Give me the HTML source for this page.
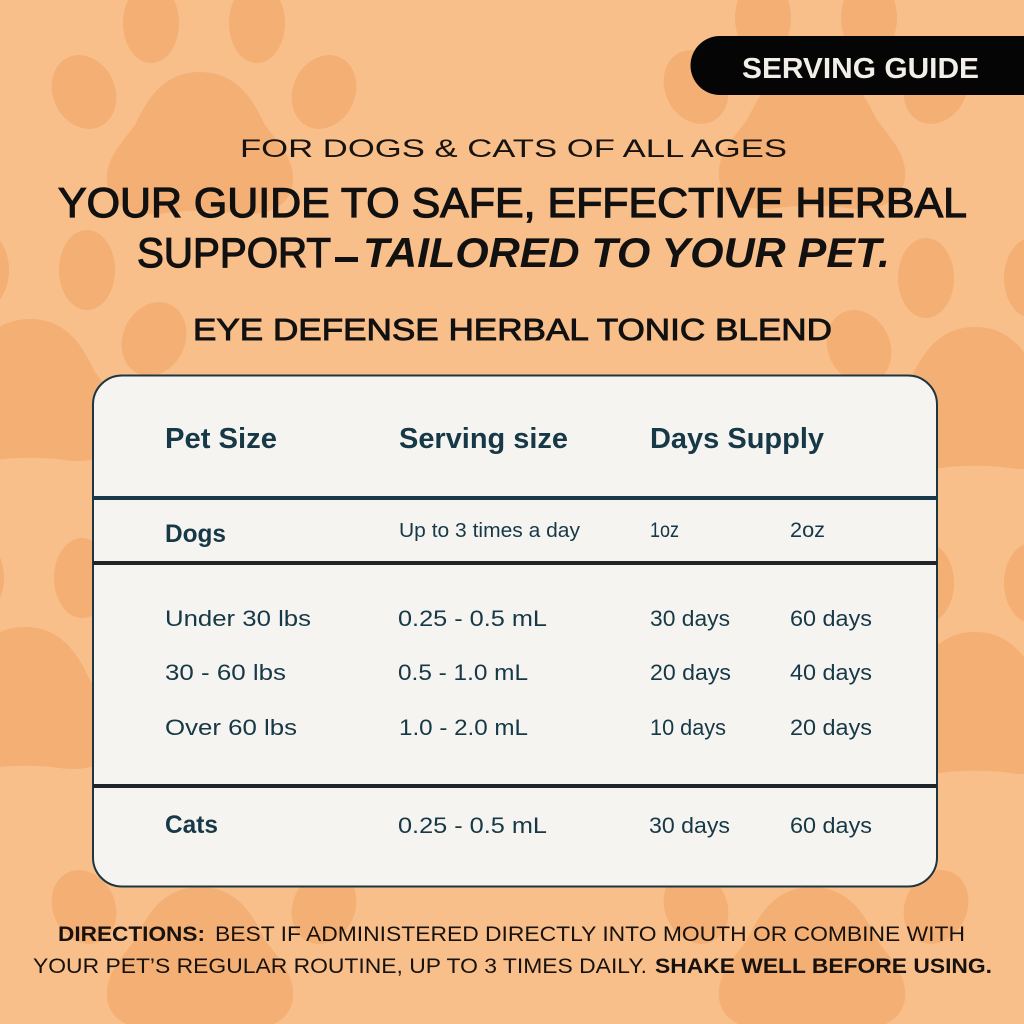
<!DOCTYPE html>
<html>
<head>
<meta charset="utf-8">
<style>
  html, body { margin: 0; padding: 0; width: 1024px; height: 1024px; overflow: hidden; background: #F8BF8B; }
  svg { display: block; }
  .t { font-family: "Liberation Sans", "DejaVu Sans", sans-serif; }
</style>
</head>
<body>
<svg width="1024" height="1024" viewBox="0 0 1024 1024" xmlns="http://www.w3.org/2000/svg">
  <defs>
    <g id="paw" fill="#F3AF74">
      <path d="M 0,-73 C 40,-73 55,-40 65,-20 C 80,0 95,15 93,38 C 90,65 60,72 35,68 C 15,65 -15,65 -35,68 C -60,72 -90,65 -93,38 C -95,15 -80,0 -65,-20 C -55,-40 -40,-73 0,-73 Z"/>
      <ellipse cx="-49" cy="-122" rx="28" ry="40"/>
      <ellipse cx="57" cy="-122" rx="28" ry="40"/>
      <ellipse cx="-116" cy="-53" rx="31" ry="38" transform="rotate(-25 -116 -53)"/>
      <ellipse cx="124" cy="-53" rx="31" ry="38" transform="rotate(25 124 -53)"/>
    </g>
  </defs>

  <rect x="0" y="0" width="1024" height="1024" fill="#F8BF8B"/>

  <!-- paw prints -->
  <use href="#paw" transform="translate(200,145)"/>
  <use href="#paw" transform="translate(812,140)"/>
  <use href="#paw" transform="translate(30,392)"/>
  <use href="#paw" transform="translate(975,400)"/>
  <use href="#paw" transform="translate(25,700)"/>
  <use href="#paw" transform="translate(975,705)"/>
  <use href="#paw" transform="translate(200,960)"/>
  <use href="#paw" transform="translate(812,960)"/>

  <!-- badge -->
  <path d="M 720,36 L 1024,36 L 1024,95 L 720,95 A 29.5,29.5 0 0 1 720,36 Z" fill="#050505"/>
  <text class="t" x="742" y="78" font-size="29" font-weight="700" fill="#F2EFE9" textLength="237" lengthAdjust="spacingAndGlyphs">SERVING GUIDE</text>

  <!-- titles -->
  <text class="t" x="240" y="157" font-size="25" fill="#161310" textLength="547" lengthAdjust="spacingAndGlyphs">FOR DOGS &amp; CATS OF ALL AGES</text>
  <text class="t" x="58" y="217" font-size="42" fill="#111" stroke="#111" stroke-width="1.2" textLength="909" lengthAdjust="spacingAndGlyphs">YOUR GUIDE TO SAFE, EFFECTIVE HERBAL</text>
  <text class="t" x="137" y="267" font-size="42" fill="#111" stroke="#111" stroke-width="1.2" textLength="194" lengthAdjust="spacingAndGlyphs">SUPPORT</text>
  <rect x="335" y="257" width="23" height="5" fill="#111"/>
  <text class="t" x="363" y="267" font-size="42" font-weight="700" font-style="italic" fill="#111" textLength="527" lengthAdjust="spacingAndGlyphs">TAILORED TO YOUR PET.</text>
  <text class="t" x="193" y="340" font-size="31" fill="#111" stroke="#111" stroke-width="0.9" textLength="639" lengthAdjust="spacingAndGlyphs">EYE DEFENSE HERBAL TONIC BLEND</text>

  <!-- table -->
  <rect x="93" y="375.5" width="844" height="511" rx="29" ry="29" fill="#F5F4F0" stroke="#1E3640" stroke-width="2"/>
  <rect x="93" y="496" width="844" height="4" fill="#17394A"/>
  <rect x="93" y="561" width="844" height="4" fill="#1E2428"/>
  <rect x="93" y="784" width="844" height="4" fill="#1E2428"/>

  <g class="t" fill="#163847">
    <text x="165" y="448" font-size="29" font-weight="700" textLength="112" lengthAdjust="spacingAndGlyphs">Pet Size</text>
    <text x="399" y="448" font-size="29" font-weight="700" textLength="169" lengthAdjust="spacingAndGlyphs">Serving size</text>
    <text x="650" y="448" font-size="29" font-weight="700" textLength="174" lengthAdjust="spacingAndGlyphs">Days Supply</text>

    <text x="165" y="542" font-size="25" font-weight="700" textLength="61" lengthAdjust="spacingAndGlyphs">Dogs</text>
    <text x="399" y="537" font-size="20" textLength="181" lengthAdjust="spacingAndGlyphs">Up to 3 times a day</text>
    <text x="650" y="537" font-size="21" textLength="29" lengthAdjust="spacingAndGlyphs">1oz</text>
    <text x="790" y="537" font-size="21" textLength="35" lengthAdjust="spacingAndGlyphs">2oz</text>

    <text x="165" y="626" font-size="22" textLength="146" lengthAdjust="spacingAndGlyphs">Under 30 lbs</text>
    <text x="398" y="626" font-size="22" textLength="149" lengthAdjust="spacingAndGlyphs">0.25 - 0.5 mL</text>
    <text x="650" y="626" font-size="22" textLength="80" lengthAdjust="spacingAndGlyphs">30 days</text>
    <text x="790" y="626" font-size="22" textLength="82" lengthAdjust="spacingAndGlyphs">60 days</text>

    <text x="165" y="680" font-size="22" textLength="121" lengthAdjust="spacingAndGlyphs">30 - 60 lbs</text>
    <text x="398" y="680" font-size="22" textLength="130" lengthAdjust="spacingAndGlyphs">0.5 - 1.0 mL</text>
    <text x="650" y="680" font-size="22" textLength="81" lengthAdjust="spacingAndGlyphs">20 days</text>
    <text x="790" y="680" font-size="22" textLength="82" lengthAdjust="spacingAndGlyphs">40 days</text>

    <text x="165" y="735" font-size="22" textLength="132" lengthAdjust="spacingAndGlyphs">Over 60 lbs</text>
    <text x="399" y="735" font-size="22" textLength="129" lengthAdjust="spacingAndGlyphs">1.0 - 2.0 mL</text>
    <text x="650" y="735" font-size="22" textLength="76" lengthAdjust="spacingAndGlyphs">10 days</text>
    <text x="790" y="735" font-size="22" textLength="82" lengthAdjust="spacingAndGlyphs">20 days</text>

    <text x="165" y="833" font-size="25" font-weight="700" textLength="53" lengthAdjust="spacingAndGlyphs">Cats</text>
    <text x="398" y="833" font-size="22" textLength="149" lengthAdjust="spacingAndGlyphs">0.25 - 0.5 mL</text>
    <text x="649" y="833" font-size="22" textLength="81" lengthAdjust="spacingAndGlyphs">30 days</text>
    <text x="790" y="833" font-size="22" textLength="82" lengthAdjust="spacingAndGlyphs">60 days</text>
  </g>

  <!-- directions -->
  <g class="t" fill="#17120E">
    <text x="58" y="941" font-size="21" font-weight="700" textLength="147" lengthAdjust="spacingAndGlyphs">DIRECTIONS:</text>
    <text x="215" y="941" font-size="21" textLength="750" lengthAdjust="spacingAndGlyphs">BEST IF ADMINISTERED DIRECTLY INTO MOUTH OR COMBINE WITH</text>
    <text x="33" y="973" font-size="21" textLength="614" lengthAdjust="spacingAndGlyphs">YOUR PET’S REGULAR ROUTINE, UP TO 3 TIMES DAILY.</text>
    <text x="655" y="973" font-size="21" font-weight="700" textLength="337" lengthAdjust="spacingAndGlyphs">SHAKE WELL BEFORE USING.</text>
  </g>
</svg>
</body>
</html>
